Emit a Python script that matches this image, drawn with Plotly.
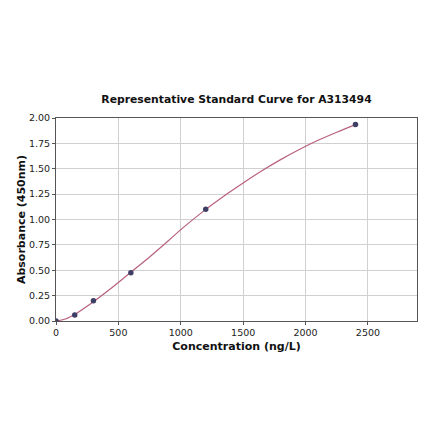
import plotly.graph_objects as go

# standard points
conc = [0, 150, 300, 600, 1200, 2400]
absorb = [0.0, 0.06, 0.2, 0.475, 1.1, 1.935]

# fitted curve
curve_x = [0, 75, 150, 225, 300, 450, 600, 750, 900, 1000, 1200, 1350, 1500, 1650, 1800, 1950, 2100, 2250, 2400]
curve_y = [0.0, 0.02, 0.065, 0.125, 0.19, 0.33, 0.48, 0.63, 0.79, 0.9, 1.1, 1.235, 1.36, 1.48, 1.59, 1.69, 1.78, 1.86, 1.935]

x_ticks = [0, 500, 1000, 1500, 2000, 2500]
y_ticks = [0.0, 0.25, 0.5, 0.75, 1.0, 1.25, 1.5, 1.75, 2.0]

fig = go.Figure()

fig.add_trace(go.Scatter(x=curve_x, y=curve_y, mode='lines',
                         line=dict(color='#b8607e', width=1.2, shape='spline'),
                         hoverinfo='skip', showlegend=False))

fig.add_trace(go.Scatter(x=conc, y=absorb, mode='markers',
                         marker=dict(color='#3f3f66', size=5.5),
                         showlegend=False))

axis_font = dict(family="DejaVu Sans", size=9.5, color='#222222')
title_font = dict(family="DejaVu Sans", size=11, color='#111111')

# page body has an 8px margin, so the figure is a bit smaller than the window
fig.update_layout(
    width=432,
    height=433,
    paper_bgcolor='white',
    plot_bgcolor='white',
    margin=dict(l=45, r=23, t=110, b=120),
    font=dict(family="DejaVu Sans", size=10, color='#222222'),
    title=dict(text='<b>Representative Standard Curve for A313494</b>',
               font=dict(family="DejaVu Sans", size=10.8, color='#111111'),
               x=0.5, xanchor='center', xref='paper',
               y=1 - 91 / 433, yref='container', yanchor='middle'),
    xaxis=dict(
        range=[0, 2893],
        tickvals=x_ticks,
        ticks='outside', ticklen=3, tickcolor='#555555',
        showgrid=True, gridcolor='#d0d0d0', gridwidth=1,
        zeroline=False,
        showline=True, linecolor='#555555', linewidth=1, mirror=True,
        tickfont=axis_font,
        title=dict(text='<b>Concentration (ng/L)</b>', font=title_font, standoff=4),
    ),
    yaxis=dict(
        range=[0, 2.0],
        tickvals=y_ticks,
        tickformat='.2f',
        ticks='outside', ticklen=3, tickcolor='#555555',
        showgrid=True, gridcolor='#d0d0d0', gridwidth=1,
        zeroline=False,
        showline=True, linecolor='#555555', linewidth=1, mirror=True,
        tickfont=axis_font,
        title=dict(text='<b>Absorbance (450nm)</b>', font=title_font, standoff=1),
    ),
)

fig.write_html("out.html")
